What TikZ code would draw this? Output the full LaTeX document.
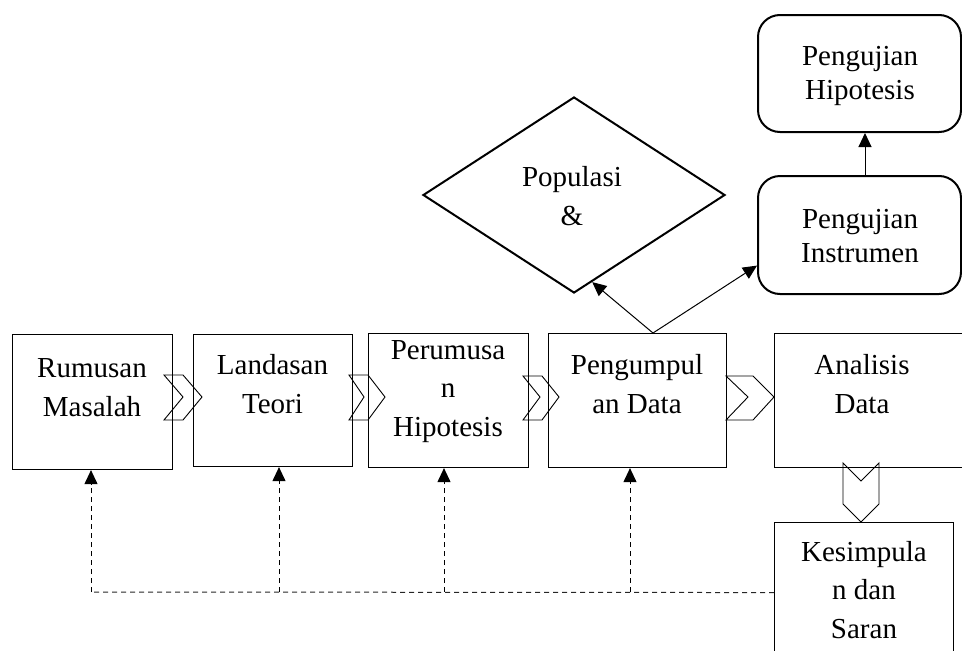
\documentclass[tikz,border=0pt]{standalone}
\usepackage{fontspec}
\setmainfont{Liberation Serif}
\usetikzlibrary{arrows.meta,shapes.geometric,calc}
\begin{document}
\begin{tikzpicture}[x=1pt,y=-1pt,
  box/.style={draw=black, line width=1.1pt, inner sep=0pt, anchor=north west},
  rbox/.style={draw=black, line width=2pt, rounded corners=22pt, inner sep=0pt, anchor=north west},
  txt/.style={align=center, inner sep=0pt, anchor=base, font=\fontsize{29}{38.5}\selectfont},
  rtxt/.style={align=center, inner sep=0pt, font=\fontsize{29}{34}\selectfont},
  chevron/.style={draw=black, line width=0.9pt, line join=miter},
  arr/.style={draw=black, line width=1pt, -{Triangle[length=14pt,width=13pt]}},
  dashline/.style={draw=black!85, line width=1pt, dash pattern=on 5pt off 4pt}]
\useasboundingbox (0,0) rectangle (962,651);
\clip (0,0) rectangle (962,651);
% main boxes
\node[box, minimum width=160pt, minimum height=135pt] (b1) at (12,334) {};
\node[box, minimum width=159pt, minimum height=132pt] (b2) at (193,334) {};
\node[box, minimum width=160pt, minimum height=134pt] (b3) at (368,333) {};
\node[box, minimum width=178pt, minimum height=134pt] (b4) at (548,333) {};
\node[box, minimum width=200pt, minimum height=134pt] (b5) at (774,333) {};
\node[box, minimum width=179pt, minimum height=140pt] (b6) at (774,522) {};
% texts (anchor base = last line's baseline)
\node[txt] (t1) at (92,416) {Rumusan\\Masalah};
\node[txt] (t2) at (272.5,413) {Landasan\\Teori};
\node[txt] (t3) at (448,436) {Perumusa\\n\\Hipotesis};
\node[txt] (t4) at (637,413) {Pengumpul\\an Data};
\node[txt] (t5) at (862,413) {Analisis\\Data};
\node[txt] (t6) at (864,638) {Kesimpula\\n dan\\Saran};
% diamond
\node[diamond, draw=black, line width=2pt, minimum width=302pt, minimum height=196pt, inner sep=0pt] (pop) at (574,195) {};
\node[txt] (tp) at (572,225) {Populasi\\\&};
% rounded boxes
\node[rbox, minimum width=203pt, minimum height=117pt] (h1) at (757,14) {};
\node[rbox, minimum width=203pt, minimum height=118pt] (h2) at (757,175) {};
\node[rtxt] (th1) at (860,76) {Pengujian\\Hipotesis};
\node[rtxt] (th2) at (860,236) {Pengujian\\Instrumen};
% chevrons
\draw[chevron] (164,375) -- (183,375) -- (202,397) -- (183,420) -- (164,420) -- (183,397) -- cycle;
\draw[chevron] (349,375) -- (368,375) -- (385,397) -- (368,420) -- (349,420) -- (364,397) -- cycle;
\draw[chevron] (523,376) -- (542,376) -- (559,397) -- (542,420) -- (523,420) -- (540,397) -- cycle;
\draw[chevron] (726,376) -- (753,376) -- (774,397) -- (753,420) -- (726,420) -- (748,397) -- cycle;
\draw[chevron] (843,463) -- (861,481) -- (879,463) -- (879,504) -- (861,522) -- (843,504) -- cycle;
% arrows from data collection
\coordinate (s4) at (653,333);
\coordinate (e1) at ($(pop.south)!0.12!(pop.east)$);
\coordinate (e2) at ($(h2.north west)!0.755!(h2.south west)$);
\draw[arr] (s4) -- (e1);
\draw[arr] (s4) -- (e2);
\coordinate (a1) at (865,175);
\draw[arr] (a1) -- (a1 |- h1.south);
% dashed feedback
\coordinate (f1) at (91,592);
\coordinate (f2) at (279,592);
\coordinate (f3) at (444,592);
\coordinate (f4) at (630,592);
\draw[dashline] (b6.west) -- (f1);
\draw[dashline, arr] (f1) -- (f1 |- b1.south);
\draw[dashline, arr] (f2) -- (f2 |- b2.south);
\draw[dashline, arr] (f3) -- (f3 |- b3.south);
\draw[dashline, arr] (f4) -- (f4 |- b4.south);
\end{tikzpicture}
\end{document}
